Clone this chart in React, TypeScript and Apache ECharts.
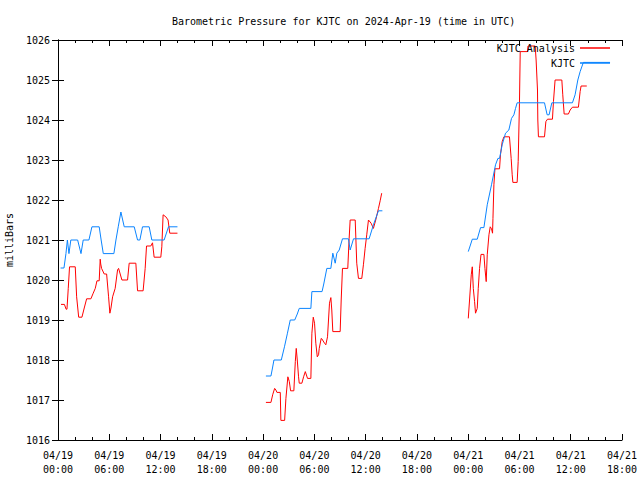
import React, { useEffect, useRef } from "react";
import * as echarts from "echarts";

// hours since 2024-04-19 00:00 UTC; null marks a gap
const analysisHours = [
  0.35, 0.75, 0.95, 1.05, 1.2, 1.35, 2.02, 2.18, 2.42, 2.8, 3.07, 3.35, 3.85, 4.12, 4.36, 4.56, 4.82, 4.94, 5.0, 5.1,
  5.41, 5.69, 5.92, 6.07, 6.2, 6.39, 6.69, 6.97, 7.09, 7.48, 8.14, 8.33, 9.11, 9.31, 9.96, 10.2, 10.36, 10.86, 11.06,
  11.25, 12.03, 12.15, 12.3, 12.62, 12.88, 13.08, 13.98,
  19,
  24.33, 24.92, 25.12, 25.35, 25.5, 25.62, 26.01, 26.08, 26.52, 26.67, 26.9, 27.07, 27.22, 27.6, 27.77, 27.88, 28.0,
  28.15, 28.23, 28.54, 28.74, 28.94, 29.2, 29.59, 29.71, 29.87, 30.02, 30.17, 30.34, 30.49, 30.57, 30.8, 30.87, 31.19,
  31.34, 31.54, 31.77, 31.93, 32.04, 32.16, 33.02, 33.14, 33.29, 33.91, 34.07, 34.19, 34.78, 34.96, 35.16, 35.55,
  35.74, 35.94, 36.13, 36.33, 36.64, 36.91, 37.18, 37.5, 37.7, 37.88,
  43,
  48.01, 48.16, 48.36, 48.48, 48.6, 48.75, 48.86, 49.06, 49.18, 49.33, 49.5, 49.84, 49.96, 50.11, 50.23, 50.43, 50.58,
  50.73, 50.85, 50.9, 51.01, 51.13, 51.67, 51.78, 51.98, 52.18, 52.83, 53.03, 53.15, 53.23, 53.73, 53.85, 54.0, 54.09,
  54.94, 55.0, 55.84, 55.95, 56.11, 56.15, 56.22, 56.93, 57.09, 57.28, 57.86, 57.98, 58.17, 58.96, 59.07, 59.23, 59.73,
  59.93, 60.2, 60.9, 61.1, 61.21, 61.88,
];
const analysisValues = [
  1019.39, 1019.39, 1019.27, 1019.27, 1019.79, 1020.33, 1020.33, 1019.58, 1019.07, 1019.07, 1019.3, 1019.53, 1019.53,
  1019.67, 1019.79, 1019.98, 1019.98, 1020.52, 1020.4, 1020.29, 1020.15, 1020.15, 1019.58, 1019.17, 1019.3, 1019.58,
  1019.79, 1020.25, 1020.29, 1020.0, 1020.0, 1020.42, 1020.42, 1019.73, 1019.73, 1020.29, 1020.85, 1020.85, 1020.93,
  1020.57, 1020.57, 1020.83, 1021.63, 1021.58, 1021.5, 1021.17, 1021.17,
  null,
  1016.94, 1016.94, 1017.13, 1017.29, 1017.25, 1017.19, 1017.19, 1016.49, 1016.49, 1017.04, 1017.58, 1017.46, 1017.23,
  1017.23, 1017.96, 1018.29, 1018.0, 1017.58, 1017.42, 1017.42, 1017.58, 1017.71, 1017.54, 1017.54, 1018.67, 1019.07,
  1018.92, 1018.42, 1018.08, 1018.13, 1018.29, 1018.54, 1018.53, 1018.42, 1018.38, 1018.58, 1019.42, 1019.56, 1019.25,
  1018.71, 1018.71, 1019.5, 1020.29, 1020.29, 1021.04, 1021.5, 1021.5, 1020.42, 1020.04, 1020.04, 1020.38, 1020.79,
  1021.13, 1021.5, 1021.42, 1021.29, 1021.5, 1021.79, 1021.98, 1022.17,
  null,
  1019.04, 1019.5, 1020.13, 1020.33, 1019.79, 1019.46, 1019.17, 1019.29, 1019.79, 1020.29, 1020.64, 1020.64, 1020.29,
  1019.96, 1020.63, 1021.13, 1021.33, 1021.28, 1021.17, 1021.54, 1022.38, 1022.78, 1022.78, 1023.13, 1023.46, 1023.58,
  1023.58, 1023.04, 1022.63, 1022.44, 1022.44, 1022.96, 1024.42, 1025.71, 1025.71, 1025.85, 1025.85, 1025.5, 1024.75,
  1024.0, 1023.58, 1023.58, 1023.96, 1024.02, 1024.02, 1024.46, 1025.0, 1025.0, 1024.63, 1024.15, 1024.15, 1024.25,
  1024.32, 1024.32, 1024.71, 1024.85, 1024.85,
];

const kjtcHours = [
  0.3, 0.7, 0.93, 1.1, 1.28, 1.5, 2.3, 2.69, 2.95, 3.62, 3.97, 4.82, 5.05, 5.3, 6.54, 6.78, 7.05, 7.36, 7.75, 8.92, 9.31,
  9.58, 9.89, 10.67, 10.98, 12.42, 12.93, 13.98,
  19,
  24.33, 24.92, 25.1, 25.27, 26.13, 26.5, 26.85, 27.18, 27.7, 28.0, 28.23, 29.59, 29.71, 30.9, 31.1, 31.46, 31.93,
  32.16, 32.44, 32.63, 32.91, 33.29, 33.99, 34.19, 34.58, 36.41, 36.91, 37.5, 37.96,
  43,
  48.01, 48.3, 48.48, 49.06, 49.3, 49.45, 49.84, 50.23, 50.73, 51.2, 51.48, 51.67, 51.98, 52.37, 52.76, 53.07, 53.35,
  53.54, 53.73, 56.93, 57.24, 57.47, 57.79, 60.2, 60.51, 60.83, 61.1, 61.48, 64.6,
];
const kjtcValues = [
  1020.3, 1020.3, 1020.66, 1021.0, 1020.66, 1021.0, 1021.0, 1020.66, 1021.0, 1021.0, 1021.33, 1021.33, 1021.0, 1020.66,
  1020.66, 1021.0, 1021.33, 1021.7, 1021.33, 1021.33, 1021.0, 1021.0, 1021.33, 1021.33, 1021.0, 1021.0, 1021.33,
  1021.33,
  null,
  1017.6, 1017.6, 1017.8, 1018.0, 1018.0, 1018.33, 1018.67, 1019.0, 1019.0, 1019.15, 1019.29, 1019.29, 1019.71,
  1019.71, 1019.9, 1020.29, 1020.29, 1020.67, 1020.42, 1020.67, 1020.75, 1021.03, 1021.03, 1020.75, 1021.03, 1021.03,
  1021.38, 1021.73, 1021.73,
  null,
  1020.71, 1020.9, 1021.02, 1021.02, 1021.2, 1021.31, 1021.31, 1021.88, 1022.38, 1022.88, 1023.04, 1023.04, 1023.38,
  1023.67, 1023.75, 1024.04, 1024.13, 1024.29, 1024.43, 1024.43, 1024.13, 1024.13, 1024.43, 1024.43, 1024.63, 1025.0,
  1025.21, 1025.44, 1025.44,
];

const dateLabels = ["04/19", "04/19", "04/19", "04/19", "04/20", "04/20", "04/20", "04/20", "04/21", "04/21", "04/21", "04/21"];
const timeLabels = ["00:00", "06:00", "12:00", "18:00", "00:00", "06:00", "12:00", "18:00", "00:00", "06:00", "12:00", "18:00"];

const FONT = "DejaVu Sans Mono";

function toData(hours: number[], values: (number | null)[]) {
  return hours.map((h, i) => [h, values[i] === null ? "-" : values[i]]);
}

export default function App() {
  const ref = useRef<HTMLDivElement>(null);
  useEffect(() => {
    if (!ref.current) return;
    const chart = echarts.init(ref.current, undefined, { renderer: "svg" });
    const xCommon = {
      type: "value" as const,
      min: 0,
      max: 66,
      interval: 6,
      axisLine: { show: true, lineStyle: { color: "#000", width: 1 } },
      axisTick: { show: true, inside: true, length: 6, lineStyle: { color: "#000" } },
      minorTick: { show: true, splitNumber: 3, length: 3, lineStyle: { color: "#000" } },
      splitLine: { show: false },
      minorSplitLine: { show: false },
    };
    const yCommon = {
      type: "value" as const,
      min: 1016,
      max: 1026,
      interval: 1,
      axisLine: { show: true, lineStyle: { color: "#000", width: 1 } },
      axisTick: { show: true, inside: true, length: 6, lineStyle: { color: "#000" } },
      splitLine: { show: false },
    };
    chart.setOption({
      animation: false,
      backgroundColor: "#fff",
      title: {
        text: "Barometric Pressure for KJTC on 2024-Apr-19 (time in UTC)",
        left: 167,
        top: 11,
        textStyle: { fontFamily: FONT, fontSize: 10, fontWeight: "normal", color: "#000" },
      },
      legend: {
        orient: "vertical",
        right: 25,
        top: 36,
        align: "right",
        itemWidth: 30,
        itemHeight: 1.5,
        itemGap: 1,
        icon: "rect",
        textStyle: { fontFamily: FONT, fontSize: 10, color: "#000", lineHeight: 14 },
        data: ["KJTC Analysis", "KJTC"],
      },
      grid: { left: 58, right: 18, top: 40, bottom: 40, containLabel: false, outerBoundsMode: "none" },
      xAxis: [
        {
          ...xCommon,
          position: "bottom",
          axisLabel: {
            fontFamily: FONT,
            fontSize: 10,
            color: "#000",
            margin: 8,
            lineHeight: 14,
            formatter: (v: number) => {
              const i = Math.round(v / 6);
              return dateLabels[i] + "\n" + timeLabels[i];
            },
          },
        },
        { ...xCommon, position: "top", axisLabel: { show: false } },
      ],
      yAxis: [
        {
          ...yCommon,
          position: "left",
          name: "milliBars",
          nameLocation: "middle",
          nameGap: 44,
          nameTextStyle: { fontFamily: FONT, fontSize: 10, color: "#000" },
          axisLabel: {
            fontFamily: FONT,
            fontSize: 10,
            color: "#000",
            margin: 8,
            formatter: (v: number) => String(v),
          },
        },
        { ...yCommon, position: "right", axisLabel: { show: false } },
      ],
      series: [
        {
          name: "KJTC Analysis",
          type: "line",
          data: toData(analysisHours, analysisValues),
          showSymbol: false,
          connectNulls: false,
          lineStyle: { color: "#ff0000", width: 1 },
          itemStyle: { color: "#ff0000" },
        },
        {
          name: "KJTC",
          type: "line",
          data: toData(kjtcHours, kjtcValues),
          showSymbol: false,
          connectNulls: false,
          lineStyle: { color: "#0a84ff", width: 1 },
          itemStyle: { color: "#0a84ff" },
        },
      ],
    });
    return () => chart.dispose();
  }, []);
  return <div ref={ref} style={{ width: 640, height: 480, position: "absolute", left: 0, top: 0 }} />;
}
